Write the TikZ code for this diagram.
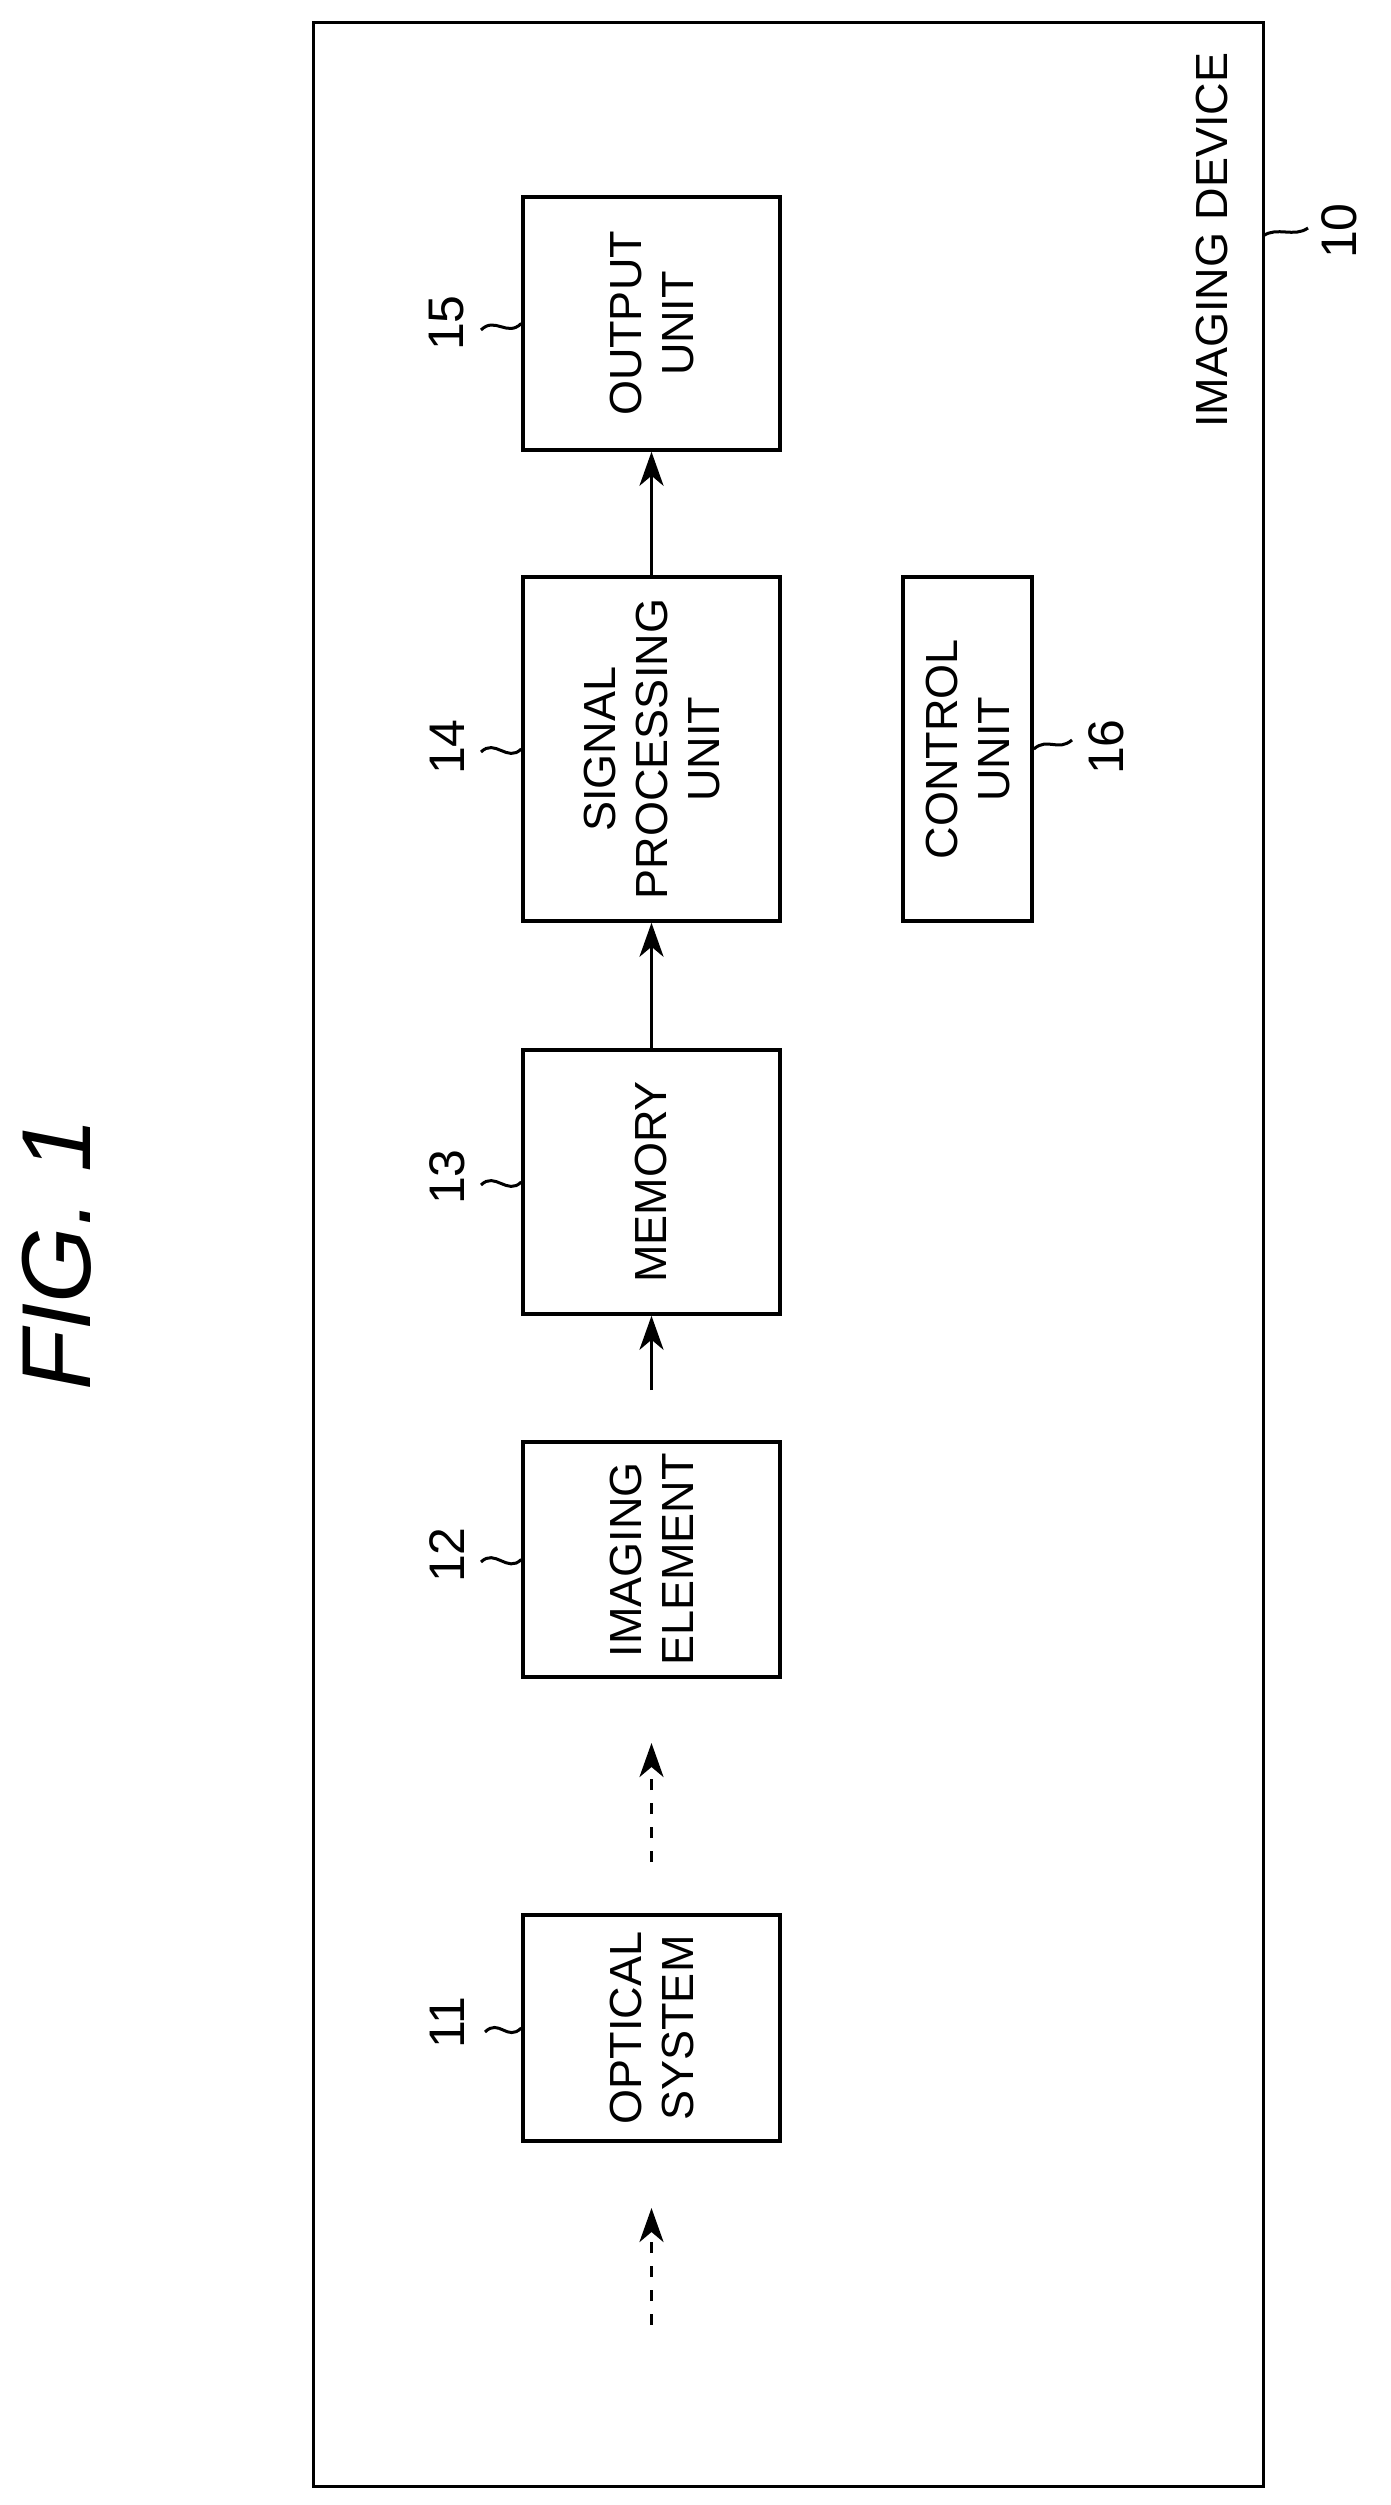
\documentclass[tikz,border=0pt]{standalone}
\usepackage{fontspec}
\setmainfont{Liberation Sans}
\usetikzlibrary{arrows.meta}
\begin{document}
\begin{tikzpicture}[x=1pt,y=-1pt,
  box/.style={draw,line width=3.5pt,rotate=90,align=center,inner sep=0pt,
    font=\fontsize{45}{52}\selectfont},
  num/.style={rotate=90,inner sep=0pt,font=\fontsize{50}{55}\selectfont},
  lead/.style={line width=3pt},
  arr/.style={line width=3.5pt,-{Stealth[length=34pt,width=24pt,inset=10pt]}},
  darr/.style={arr,dash pattern=on 11pt off 13pt}]
\useasboundingbox (0,0) rectangle (1391,2505);
\node[draw,line width=3pt,minimum width=950pt,minimum height=2463pt,inner sep=0pt] (frame) at (788,1254.5) {};
\node[rotate=90,inner sep=0pt,font=\fontsize{98}{100}\selectfont\itshape] (fig) at (57,1254) {FIG. 1};
\node[box,minimum width=253pt,minimum height=257pt] (b15) at (651.5,323.5) {OUTPUT\\UNIT};
\node[box,minimum width=344pt,minimum height=257pt] (b14) at (651.5,749) {SIGNAL\\PROCESSING\\UNIT};
\node[box,minimum width=264pt,minimum height=257pt] (b13) at (651.5,1182) {MEMORY};
\node[box,minimum width=235pt,minimum height=257pt] (b12) at (651.5,1559.5) {IMAGING\\ELEMENT};
\node[box,minimum width=226pt,minimum height=257pt] (b11) at (651.5,2028) {OPTICAL\\SYSTEM};
\node[box,minimum width=344pt,minimum height=129pt] (b16) at (967.5,749) {CONTROL\\UNIT};
\node[rotate=90,inner sep=0pt,font=\fontsize{45}{52}\selectfont] (t10) at (1212,240) {IMAGING DEVICE};
\node[num] (n15) at (447,323) {15};
\node[num] (n14) at (447,747) {14};
\node[num] (n13) at (447,1177) {13};
\node[num] (n12) at (447,1555) {12};
\node[num] (n11) at (447,2023) {11};
\node[num] (n16) at (1106,747) {16};
\node[num] (n10) at (1339,231) {10};
\coordinate (l15) at (481,330);
\coordinate (l14) at (481,752);
\coordinate (l13) at (481,1185);
\coordinate (l12) at (481,1562);
\coordinate (l11) at (485,2032);
\coordinate (l16) at (1072,740);
\coordinate (f10) at (1263,236);
\coordinate (l10) at (1308,228);
\foreach \a/\b in {l15/b15,l14/b14,l13/b13,l12/b12,l11/b11}
  \draw[lead] (\a) .. controls +(14,-14) and +(-14,14) .. (\b.north);
\draw[lead] (b16.south) .. controls +(14,-12) and +(-14,12) .. (l16);
\draw[lead] (f10) .. controls +(14,-10) and +(-14,10) .. (l10);
\coordinate (s0) at (651.5,2325);
\coordinate (e0) at (651.5,2208);
\coordinate (s1) at (651.5,1862);
\coordinate (e1) at (651.5,1743);
\coordinate (s2) at (651.5,1390);
\draw[darr] (s0) -- (e0);
\draw[darr] (s1) -- (e1);
\draw[arr] (s2) -- (b13.west);
\draw[arr] (b13.east) -- (b14.west);
\draw[arr] (b14.east) -- (b15.west);
\end{tikzpicture}
\end{document}
